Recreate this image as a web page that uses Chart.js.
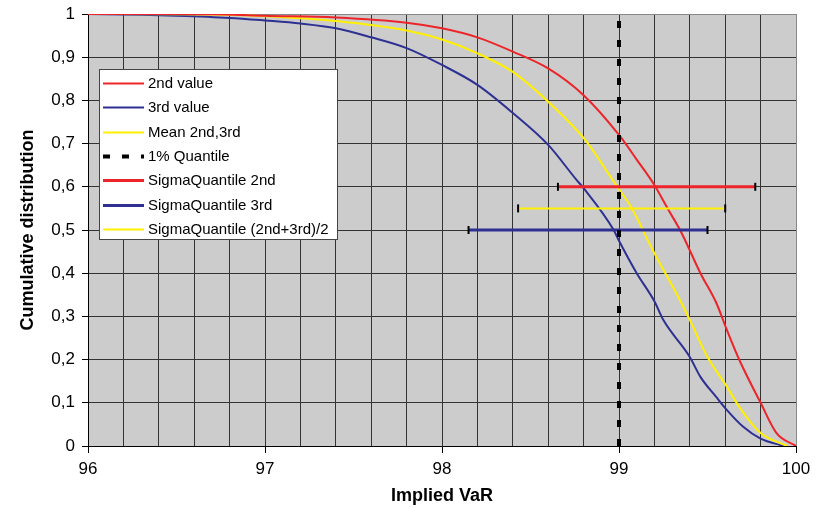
<!DOCTYPE html>
<html><head><meta charset="utf-8">
<script src="https://cdn.jsdelivr.net/npm/chart.js@4/dist/chart.umd.min.js"></script>
<style>html,body{margin:0;padding:0;background:#fff}</style>
</head><body>
<canvas id="c" width="825" height="508"></canvas>
<script>
// ---- data ----
const redX  = [96, 96.5, 96.77, 97.0, 97.4, 97.8, 98.0, 98.2, 98.4, 98.6, 98.8, 99.0, 99.1, 99.2, 99.27, 99.35, 99.46, 99.55, 99.61, 99.68, 99.8, 99.89, 100];
const redY  = [1, 1, 0.999, 0.996, 0.992, 0.980, 0.967, 0.946, 0.913, 0.874, 0.812, 0.720, 0.663, 0.604, 0.553, 0.496, 0.40, 0.331, 0.268, 0.199, 0.10, 0.03, 0];
const blueX = [96, 96.3, 96.5, 96.8, 97.0, 97.2, 97.4, 97.6, 97.8, 98.0, 98.2, 98.4, 98.6, 98.76, 98.8, 98.97, 99.0, 99.1, 99.2, 99.25, 99.4, 99.46, 99.55, 99.61, 99.7, 99.8, 99.93];
const blueY = [1, 0.998, 0.996, 0.991, 0.985, 0.978, 0.967, 0.946, 0.921, 0.882, 0.836, 0.771, 0.697, 0.616, 0.597, 0.50, 0.475, 0.40, 0.335, 0.292, 0.206, 0.16, 0.113, 0.083, 0.045, 0.017, 0];
const meanX = [96, 96.7, 97.0, 97.4, 97.8, 98.0, 98.2, 98.4, 98.6, 98.8, 98.99, 99.07, 99.19, 99.335, 99.4, 99.5, 99.61, 99.68, 99.8, 99.95];
const meanY = [1, 0.999, 0.995, 0.984, 0.962, 0.941, 0.909, 0.866, 0.797, 0.713, 0.60, 0.552, 0.454, 0.345, 0.292, 0.206, 0.137, 0.09, 0.03, 0];
const quantileX = [99, 99];
const quantileY = [0, 1];
const sigma2ndX = [98.655, 99.77];  const sigma2ndY = [0.6, 0.6];
const sigma3rdX = [98.15, 99.50];   const sigma3rdY = [0.5, 0.5];
const sigmaMeanX = [98.43, 99.60];  const sigmaMeanY = [0.55, 0.55];
const legendLabels = ['2nd value','3rd value','Mean 2nd,3rd','1% Quantile','SigmaQuantile 2nd','SigmaQuantile 3rd','SigmaQuantile (2nd+3rd)/2'];

const RED = 'rgb(237,36,42)', BLUE = 'rgb(46,49,146)', YEL = 'rgb(255,240,0)';
const FONT = '"Liberation Sans", Arial, Helvetica, sans-serif';
const pts = (xs, ys) => xs.map((x, i) => ({x, y: ys[i]}));

function curve(label, xs, ys, color, order) {
  return {label, data: pts(xs, ys), showLine: true, borderColor: color, backgroundColor: color,
          borderWidth: 2, pointRadius: 0, order, cubicInterpolationMode: 'monotone'};
}
function bar(label, xs, ys, color, w) {
  return {label, data: pts(xs, ys), showLine: true, borderColor: color, backgroundColor: color,
          borderWidth: w, pointStyle: 'line', pointRotation: 90, pointRadius: 4,
          pointBorderColor: '#000', pointBorderWidth: 2, order: 1};
}

const datasets = [
  curve(legendLabels[0], redX, redY, RED, 2),
  curve(legendLabels[1], blueX, blueY, BLUE, 4),
  curve(legendLabels[2], meanX, meanY, YEL, 3),
  {label: legendLabels[3], data: pts(quantileX, quantileY), showLine: true, borderColor: '#000',
   borderWidth: 4, borderDash: [7, 12], pointRadius: 0, order: 0},
  bar(legendLabels[4], sigma2ndX, sigma2ndY, RED, 3),
  bar(legendLabels[5], sigma3rdX, sigma3rdY, BLUE, 3),
  bar(legendLabels[6], sigmaMeanX, sigmaMeanY, YEL, 2)
];

const bgPlugin = {
  id: 'bg',
  beforeDraw(chart) {
    const {ctx, chartArea: a} = chart;
    ctx.save(); ctx.fillStyle = '#cccccc';
    ctx.fillRect(a.left, a.top, a.right - a.left, a.bottom - a.top);
    ctx.restore();
  }
};

const legendPlugin = {
  id: 'boxLegend',
  afterDraw(chart) {
    const ctx = chart.ctx;
    const bx = 99.5, by = 69.5, bw = 238, bh = 170, row = 24.4, y0 = 82.7;
    ctx.save();
    ctx.fillStyle = '#fff'; ctx.fillRect(bx, by, bw, bh);
    ctx.strokeStyle = '#444'; ctx.lineWidth = 1; ctx.strokeRect(bx, by, bw, bh);
    chart.data.datasets.forEach((ds, i) => {
      const y = Math.round(y0 + i * row) + 0.5;
      ctx.beginPath();
      ctx.strokeStyle = ds.borderColor; ctx.lineWidth = ds.borderWidth;
      ctx.setLineDash(ds.borderDash || []);
      ctx.moveTo(103, y); ctx.lineTo(144, y); ctx.stroke();
      ctx.setLineDash([]);
      ctx.fillStyle = '#000'; ctx.font = '15px ' + FONT;
      ctx.textBaseline = 'middle'; ctx.textAlign = 'left';
      ctx.fillText(ds.label, 148, y);
    });
    ctx.restore();
  }
};

const isInt = v => Math.abs(v - Math.round(v)) < 1e-6;

new Chart(document.getElementById('c'), {
  type: 'scatter',
  data: {datasets},
  plugins: [bgPlugin, legendPlugin],
  options: {
    responsive: false, animation: false,
    layout: {padding: {top: 14, right: 29, left: 0, bottom: 0}},
    plugins: {legend: {display: false}, tooltip: {enabled: false}},
    scales: {
      x: {
        type: 'linear', min: 96, max: 100,
        afterFit(s) { s.height = 62; s.paddingLeft = 0; s.paddingRight = 0; },
        ticks: {stepSize: 0.2, autoSkip: false, maxRotation: 0, padding: 6, color: '#000',
                font: {family: FONT, size: 17},
                callback: v => isInt(v) ? String(Math.round(v)) : ''},
        grid: {color: ctx => (ctx.tick && Math.abs(ctx.tick.value - 100) < 1e-6) ? '#888' : '#333',
               lineWidth: 1, tickLength: 7,
               tickColor: ctx => (ctx.tick && isInt(ctx.tick.value)) ? '#000' : 'rgba(0,0,0,0)'},
        border: {color: '#000', width: 1},
        title: {display: true, text: 'Implied VaR', color: '#000',
                font: {family: FONT, size: 18, weight: 'bold'}, padding: {top: 0, bottom: 1}}
      },
      y: {
        type: 'linear', min: 0, max: 1,
        afterFit(s) { s.width = 88; s.paddingTop = 0; s.paddingBottom = 0; },
        ticks: {stepSize: 0.1, padding: 7, color: '#000', font: {family: FONT, size: 17},
                callback: v => isInt(v) ? String(Math.round(v)) : v.toFixed(1).replace('.', ',')},
        grid: {color: ctx => (ctx.tick && Math.abs(ctx.tick.value - 1) < 1e-6) ? '#888' : '#333',
               lineWidth: 1, tickLength: 6, tickColor: '#000'},
        border: {color: '#000', width: 1},
        title: {display: true, text: 'Cumulative distribution', color: '#000',
                font: {family: FONT, size: 18, weight: 'bold'}, padding: {top: 17, bottom: 0}}
      }
    }
  }
});
</script>
</body></html>
